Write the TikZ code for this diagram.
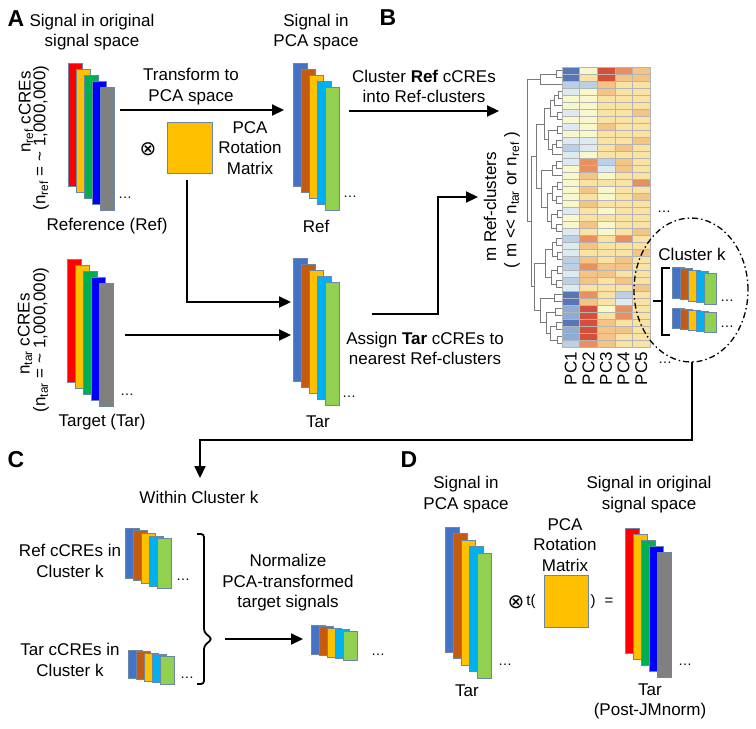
\documentclass[tikz,border=0pt]{standalone}
\usepackage{fontspec}
\setmainfont{Liberation Sans}
\newfontfamily\symf{DejaVu Sans}
\usetikzlibrary{arrows.meta}
\definecolor{oR}{HTML}{FF0000}
\definecolor{oY}{HTML}{FFC000}
\definecolor{oG}{HTML}{00B050}
\definecolor{oB}{HTML}{0000FF}
\definecolor{oGr}{HTML}{808080}
\definecolor{pB}{HTML}{4472C4}
\definecolor{pBr}{HTML}{C55A11}
\definecolor{pY}{HTML}{FFC000}
\definecolor{pLB}{HTML}{00B0F0}
\definecolor{pG}{HTML}{92D050}
\definecolor{barline}{HTML}{6A86A8}
\definecolor{h1}{HTML}{5577BA}
\definecolor{h2}{HTML}{8EADD5}
\definecolor{h3}{HTML}{B9D0E6}
\definecolor{h4}{HTML}{DDEAF0}
\definecolor{h5}{HTML}{F9F8CC}
\definecolor{h6}{HTML}{FAE3A2}
\definecolor{h7}{HTML}{F4C485}
\definecolor{h8}{HTML}{E8905F}
\definecolor{h9}{HTML}{D5503B}
\definecolor{cellline}{HTML}{B4B4B4}
\definecolor{dendro}{HTML}{7A7A7A}
\newcommand\bstack[7]{%
  \foreach \clr [count=\i from 0] in {#7} {
    \fill[fill=\clr, draw=barline, line width=0.7pt] ({#1+\i*#5},{#2+\i*#6}) rectangle ++(#3,#4);
  }}
\newcommand\dg[5]{\draw[dendro, line width=0.6pt] (#1,#2) -- (#5,#2) -- (#5,#4) -- (#3,#4);}
\begin{document}
\begin{tikzpicture}[x=1pt,y=-1pt,
  lbl/.style={font=\fontsize{17}{20.5}\selectfont, align=center, inner sep=0pt},
  panel/.style={font=\fontsize{23}{24}\selectfont\bfseries, inner sep=0pt},
  dots/.style={font=\fontsize{14}{14}\selectfont, inner sep=0pt},
  otimes/.style={font=\fontsize{20}{20}\selectfont\symf, inner sep=0pt},
  conn/.style={line width=2.2pt},
  arr/.style={conn, -{Triangle[length=12pt,width=11pt]}},
  mat/.style={fill=oY, draw=barline, line width=0.7pt}]
\useasboundingbox (0,0) rectangle (756,729);
\fill[white] (0,0) rectangle (756,729);

% ---------------- Panel A ----------------
\node[panel] (pA) at (16,19) {A};
\node[lbl] (tA1) at (92,32) {Signal in original\\signal space};
\bstack{68}{63}{14}{123}{8}{6}{oR,oY,oG,oB,oGr}
\node[dots] (dA1) at (125,198) {\textellipsis};
\node[lbl, rotate=90] (nref1) at (26,112) {n\textsubscript{ref} cCREs};
\node[lbl, rotate=90] (nref2) at (41,138) {(n\textsubscript{ref} = \textasciitilde{} 1,000,000)};
\node[lbl] (refl) at (107,226) {Reference (Ref)};

\node[lbl] (tA2) at (191,86.5) {Transform to\\PCA space};
\node[otimes] (ot1) at (148,149) {⊗};
\fill[mat] (167,122) rectangle (212,173);
\node[lbl] (rot1) at (250,148) {PCA\\Rotation\\Matrix};

\node[lbl] (tA3) at (316,32) {Signal in\\PCA space};
\bstack{293}{63}{14}{123}{8}{6}{pB,pBr,pY,pLB,pG}
\node[dots] (dA2) at (350,197) {\textellipsis};
\node[lbl] (refp) at (316,226) {Ref};

\bstack{67}{259}{14}{123}{8}{6}{oR,oY,oG,oB,oGr}
\node[dots] (dA3) at (127,395) {\textellipsis};
\node[lbl, rotate=90] (ntar1) at (25,334) {n\textsubscript{tar} cCREs};
\node[lbl, rotate=90] (ntar2) at (41,340) {(n\textsubscript{tar} = \textasciitilde{} 1,000,000)};
\node[lbl] (tarl) at (102,422) {Target (Tar)};

\bstack{293}{258}{14}{123}{8}{6}{pB,pBr,pY,pLB,pG}
\node[dots] (dA4) at (349,397) {\textellipsis};
\node[lbl] (tarp) at (318,422) {Tar};

% connectors panel A
\coordinate (a1s) at (120,110); \coordinate (a1e) at (284,110);
\draw[arr] (a1s) -- (a1e);
\coordinate (a2s) at (187,180); \coordinate (a2m) at (187,302); \coordinate (a2e) at (291,302);
\draw[arr] (a2s) -- (a2m) -- (a2e);
\coordinate (a3s) at (125,335); \coordinate (a3e) at (291,335);
\draw[arr] (a3s) -- (a3e);

% ---------------- Panel B ----------------
\node[panel] (pB) at (388,18) {B};
\node[lbl] (tB1) at (424,86.5) {Cluster \textbf{Ref} cCREs\\into Ref-clusters};
\coordinate (b1s) at (349,111); \coordinate (b1e) at (499,111);
\draw[arr] (b1s) -- (b1e);
\node[lbl] (tB2) at (425,348.5) {Assign \textbf{Tar} cCREs to\\nearest Ref-clusters};
\coordinate (b2s) at (372,314); \coordinate (b2m1) at (438,314); \coordinate (b2m2) at (438,197); \coordinate (b2e) at (478,197);
\draw[arr] (b2s) -- (b2m1) -- (b2m2) -- (b2e);
\node[lbl, rotate=90] (mref1) at (490,207) {m Ref-clusters};
\node[lbl, rotate=90] (mref2) at (512,200) {( m {<}{<} n\textsubscript{tar} or n\textsubscript{ref} )};

% heatmap
\foreach \row [count=\r from 0] in {
{1,5,9,8,7},{1,6,9,7,7},{3,3,7,6,6},{4,5,7,6,6},{5,5,6,6,6},
{5,5,6,6,6},{4,5,6,6,7},{5,5,6,6,6},{4,5,7,6,6},{5,5,6,6,6},
{4,4,6,6,7},{3,4,6,7,6},{4,5,6,6,6},{4,8,3,7,6},{5,8,4,7,6},
{5,7,5,6,6},{5,6,6,6,8},{5,7,5,6,6},{5,6,5,6,7},{5,7,6,6,6},
{4,6,5,6,6},{5,6,6,6,6},{5,7,5,6,6},{4,6,5,6,7},{3,8,6,8,6},
{4,7,6,6,6},{4,6,6,6,7},{3,7,6,7,6},{3,8,7,7,6},{4,7,7,6,6},
{3,7,6,7,6},{4,6,6,6,7},{1,8,6,3,6},{1,7,6,4,6},{2,9,5,8,6},
{2,9,6,8,6},{1,9,7,6,6},{2,9,7,7,6},{2,9,7,6,6},{3,8,7,6,6}} {
  \foreach \v [count=\k from 0] in \row {
    \fill[fill=h\v, draw=cellline, line width=0.3pt] ({562+\k*17.6},{67+\r*7}) rectangle ++(17.6,7);
  }
}
% dendrogram
\dg{562}{70.5}{562}{77.5}{556}
\dg{556}{74}{562}{84.5}{540}
\dg{562}{91.5}{562}{98.5}{558}
\dg{558}{95}{562}{105.5}{554}
\dg{562}{112.5}{562}{119.5}{557}
\dg{554}{100.25}{557}{116}{550}
\dg{562}{126.5}{562}{133.5}{557}
\dg{562}{140.5}{562}{147.5}{556}
\dg{556}{144}{562}{154.5}{552}
\dg{557}{130}{552}{149.25}{548}
\dg{550}{108.125}{548}{139.625}{544}
\dg{562}{161.5}{562}{168.5}{556}
\dg{556}{165}{562}{175.5}{552}
\dg{562}{182.5}{562}{189.5}{557}
\dg{562}{196.5}{562}{203.5}{556}
\dg{557}{186}{556}{200}{552}
\dg{562}{210.5}{562}{217.5}{557}
\dg{562}{224.5}{562}{231.5}{556}
\dg{557}{214}{556}{228}{551}
\dg{552}{193}{551}{221}{547}
\dg{552}{170.25}{547}{207}{541}
\dg{544}{123.875}{541}{188.625}{536}
\dg{562}{238.5}{562}{245.5}{556}
\dg{562}{252.5}{562}{259.5}{557}
\dg{556}{242}{557}{256}{552}
\dg{562}{266.5}{562}{273.5}{557}
\dg{562}{280.5}{562}{287.5}{556}
\dg{557}{270}{556}{284}{551}
\dg{552}{249}{551}{277}{545}
\dg{562}{294.5}{562}{301.5}{554}
\dg{562}{308.5}{562}{315.5}{555}
\dg{562}{322.5}{562}{329.5}{556}
\dg{562}{336.5}{562}{343.5}{557}
\dg{556}{326}{557}{340}{550}
\dg{555}{312}{550}{333}{546}
\dg{554}{298}{546}{322.5}{540}
\dg{545}{263}{540}{310.25}{534}
\dg{536}{156.25}{534}{286.625}{531}
\dg{540}{79.25}{531}{221.4375}{527}

\foreach \n [count=\k from 0] in {PC1,PC2,PC3,PC4,PC5}
  \node[lbl, rotate=90, anchor=east] (pc\k) at ({570.8+\k*17.6},352) {\n};
\node[dots] (dB1) at (665,363) {\textellipsis};
\node[dots] (dB2) at (664,212) {\textellipsis};

% cluster k
\draw[line width=1.3pt, dash pattern=on 6pt off 3pt on 1.5pt off 3pt] (691,290) ellipse [x radius=57pt, y radius=72pt];
\coordinate (ellb) at (692,362);
\node[lbl] (ck) at (692,254) {Cluster k};
\draw[line width=1.5pt] (670,268) -- (662,268) -- (662,335) -- (670,335);
\draw[line width=1.5pt] (653,301) -- (662,301);
\bstack{672}{267}{12}{31}{8}{1.5}{pB,pBr,pY,pLB,pG}
\bstack{672}{308}{12}{20}{8}{1.2}{pB,pBr,pY,pLB,pG}
\node[dots] (dk1) at (727,301) {\textellipsis};
\node[dots] (dk2) at (727,327) {\textellipsis};

% connector to panel C
\coordinate (c0m1) at (692,440); \coordinate (c0m2) at (200,440); \coordinate (c0e) at (200,478);
\draw[arr] (ellb) -- (c0m1) -- (c0m2) -- (c0e);

% ---------------- Panel C ----------------
\node[panel] (pC) at (16,460) {C};
\node[lbl] (tC1) at (199,497) {Within Cluster k};
\node[lbl] (tC2) at (70,561) {Ref cCREs in\\Cluster k};
\bstack{125}{528}{14}{50}{8}{2.7}{pB,pBr,pY,pLB,pG}
\node[dots] (dC1) at (183,580) {\textellipsis};
\node[lbl] (tC3) at (70,660) {Tar cCREs in\\Cluster k};
\bstack{128}{650}{14}{28}{8}{1.5}{pB,pBr,pY,pLB,pG}
\node[dots] (dC2) at (187,678) {\textellipsis};
\draw[line width=1.8pt, rounded corners=3pt] (197,534) -- (204,534) -- (204,632) -- (212,639) -- (204,646) -- (204,684) -- (197,684);
\coordinate (c1s) at (225,639); \coordinate (c1e) at (303,639);
\draw[arr] (c1s) -- (c1e);
\node[lbl] (tC4) at (288,583) {Normalize\\PCA-transformed\\target signals};
\bstack{311}{625}{14}{29}{8}{1.6}{pB,pBr,pY,pLB,pG}
\node[dots] (dC3) at (378,655) {\textellipsis};

% ---------------- Panel D ----------------
\node[panel] (pD) at (409,460) {D};
\node[lbl] (tD1) at (466,494.5) {Signal in\\PCA space};
\node[lbl] (tD2) at (649,494.5) {Signal in original\\signal space};
\bstack{445}{527}{14}{125}{8}{6.5}{pB,pBr,pY,pLB,pG}
\node[dots] (dD1) at (505,665) {\textellipsis};
\node[lbl] (tD3) at (467,691) {Tar};
\node[lbl] (tD4) at (565,545) {PCA\\Rotation\\Matrix};
\node[otimes] (ot2) at (516,602) {⊗};
\node[lbl, font=\fontsize{15}{15}\selectfont] (tpar) at (531,602) {t(};
\fill[mat] (544,575) rectangle (588,627);
\node[lbl, font=\fontsize{15}{15}\selectfont] (rpar) at (593,602) {)};
\node[lbl, font=\fontsize{15}{15}\selectfont] (eq) at (609,602) {=};
\bstack{625}{528}{14}{125}{8}{6}{oR,oY,oG,oB,oGr}
\node[dots] (dD2) at (685,665) {\textellipsis};
\node[lbl] (tD5) at (650,701.5) {Tar\\(Post-JMnorm)};
\end{tikzpicture}
\end{document}
